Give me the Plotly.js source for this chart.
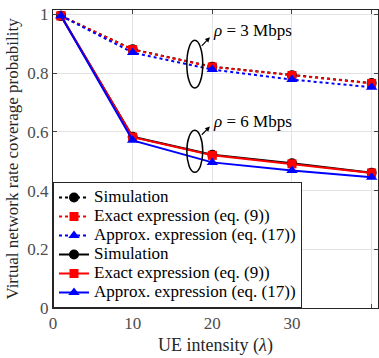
<!DOCTYPE html>
<html><head><meta charset="utf-8">
<script src="https://cdn.plot.ly/plotly-3.0.1.min.js"></script>
<style>html,body{margin:0;padding:0;background:#fff}</style>
</head><body>
<div id="chart" style="width:379px;height:358px"></div>
<script>
const lambda = [1, 10, 20, 30, 40];
const sim3 = [0.995, 0.881, 0.822, 0.793, 0.766];
const exact3 = [0.995, 0.880, 0.821, 0.792, 0.765];
const approx3 = [0.995, 0.870, 0.812, 0.778, 0.752];
const sim6 = [0.995, 0.583, 0.522, 0.493, 0.461];
const exact6 = [0.995, 0.582, 0.520, 0.491, 0.460];
const approx6 = [0.995, 0.571, 0.496, 0.468, 0.445];
const names = ['Simulation', 'Exact expression (eq. (9))', 'Approx. expression (eq. (17))'];

const colors = ['#000000', '#ff0000', '#0000ff'];
const symbols = ['circle', 'square', 'triangle-up'];
const sizes = [10, 9, 10];
function tr(y, i, dash) {
  return {x: lambda, y: y, name: '<span style="font-size:17px">' + names[i] + '</span>',
    mode: 'lines+markers', type: 'scatter',
    line: {color: colors[i], width: 2, dash: dash},
    marker: {color: colors[i], symbol: symbols[i], size: sizes[i]}};
}
const data = [tr(sim3,0,'dot'), tr(exact3,1,'dot'), tr(approx3,2,'dot'),
              tr(sim6,0,'solid'), tr(exact6,1,'solid'), tr(approx6,2,'solid')];

const font = 'Liberation Serif, Times New Roman, serif';
const layout = {
  width: 379, height: 358,
  margin: {l: 53, r: 1, t: 10, b: 50},
  paper_bgcolor: '#fff', plot_bgcolor: '#fff',
  font: {family: font, size: 16, color: '#262626'},
  showlegend: true,
  legend: {x: 0, y: 0, xanchor: 'left', yanchor: 'bottom', bgcolor: '#fff',
    bordercolor: '#262626', borderwidth: 1, font: {family: font, size: 12, color: '#000'},
    itemwidth: 30, tracegroupgap: 0},
  xaxis: {range: [0, 40.8], tickvals: [0,10,20,30,40], ticks: 'inside', ticklen: 4,
    showgrid: true, gridcolor: '#e3e3e3', zeroline: false, showline: true, linecolor: '#262626',
    mirror: 'ticks', tickfont: {family: font, size: 17, color: '#4d4d4d'},
    title: {text: 'UE intensity (<i>λ</i>)', font: {family: font, size: 18, color: '#262626'}, standoff: 5}},
  yaxis: {range: [0, 1.015], tickvals: [0,0.2,0.4,0.6,0.8,1], ticktext: ['0','0.2','0.4','0.6','0.8','1'],
    ticks: 'inside', ticklen: 4, ticklabelstandoff: 0,
    showgrid: true, gridcolor: '#e3e3e3', zeroline: false, showline: true, linecolor: '#262626',
    mirror: 'ticks', tickfont: {family: font, size: 17, color: '#4d4d4d'},
    title: {text: 'Virtual network rate coverage probability', font: {family: font, size: 17, color: '#262626'}, standoff: 4}},
  shapes: [
    {type: 'circle', xref: 'x', yref: 'y', x0: 16.8, x1: 18.8, y0: 0.749, y1: 0.912, line: {color: '#000', width: 1.5}},
    {type: 'circle', xref: 'x', yref: 'y', x0: 16.8, x1: 18.8, y0: 0.462, y1: 0.605, line: {color: '#000', width: 1.5}}
  ],
  annotations: [
    {x: 19.8, y: 0.945, xref: 'x', yref: 'y', text: '<i>ρ</i> = 3 Mbps', showarrow: false, xanchor: 'left', yanchor: 'middle', font: {family: font, size: 17, color: '#000'}},
    {x: 19.8, y: 0.636, xref: 'x', yref: 'y', text: '<i>ρ</i> = 6 Mbps', showarrow: false, xanchor: 'left', yanchor: 'middle', font: {family: font, size: 17, color: '#000'}},
    {x: 19.7, y: 0.922, ax: 18.5, ay: 0.888, xref: 'x', yref: 'y', axref: 'x', ayref: 'y', text: '', showarrow: true, arrowhead: 2, arrowsize: 0.8, arrowwidth: 1.2, arrowcolor: '#000'},
    {x: 19.7, y: 0.618, ax: 18.5, ay: 0.585, xref: 'x', yref: 'y', axref: 'x', ayref: 'y', text: '', showarrow: true, arrowhead: 2, arrowsize: 0.8, arrowwidth: 1.2, arrowcolor: '#000'}
  ]
};
Plotly.newPlot('chart', data, layout, {displayModeBar: false, staticPlot: true});
</script>
</body></html>
